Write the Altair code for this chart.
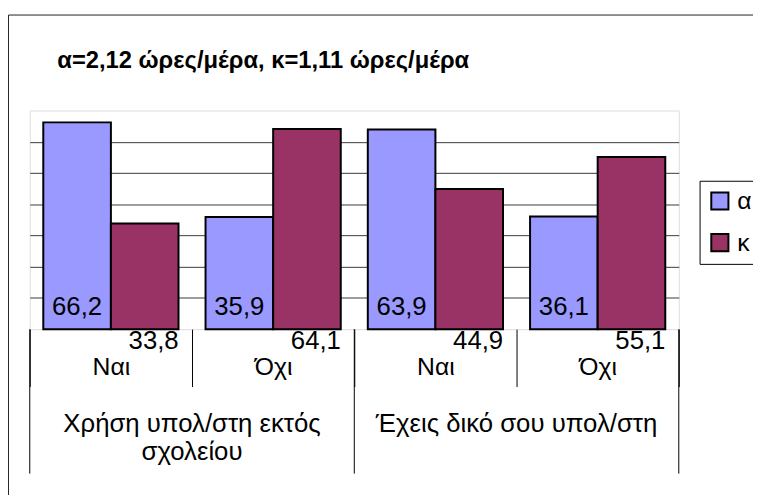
import altair as alt
import pandas as pd

title_text = "α=2,12 ώρες/μέρα, κ=1,11 ώρες/μέρα"
groups = ["Χρήση υπολ/στη εκτός\nσχολείου", "Έχεις δικό σου υπολ/στη"]
answers = ["Ναι", "Όχι"]
series = ["α", "κ"]
alpha_vals = [66.2, 35.9, 63.9, 36.1]
kappa_vals = [33.8, 64.1, 44.9, 55.1]
colors = ["#9999FF", "#993366"]

FONT = "Liberation Sans"

cats = [f"{g}|{a}" for g in groups for a in answers]
rows = []
for i, c in enumerate(cats):
    rows.append({"cat": c, "series": "α", "value": alpha_vals[i], "label": f"{alpha_vals[i]:.1f}".replace(".", ",")})
    rows.append({"cat": c, "series": "κ", "value": kappa_vals[i], "label": f"{kappa_vals[i]:.1f}".replace(".", ",")})
df = pd.DataFrame(rows)

xaxis = alt.Axis(
    title=None,
    labelExpr="split(datum.label, '|')[1]",
    tickBand="extent",
    tickSize=58,
    tickColor="#000000",
    tickWidth=1,
    domain=False,
    grid=False,
    labelPadding=-32,
    labelFont=FONT,
    labelFontSize=25,
    labelColor="#000000",
    labelAngle=0,
    labelBaseline="top",
)
xscale = alt.Scale(paddingInner=0, paddingOuter=0)
offscale = alt.Scale(paddingInner=0, paddingOuter=0.2)

base = alt.Chart(df)

bars = base.mark_bar(stroke="#000000", strokeWidth=2).encode(
    x=alt.X("cat:N", sort=cats, scale=xscale, axis=xaxis),
    xOffset=alt.XOffset("series:N", sort=series, scale=offscale),
    y=alt.Y(
        "value:Q",
        scale=alt.Scale(domain=[0, 70], nice=False),
        axis=alt.Axis(
            title=None, values=[10, 20, 30, 40, 50, 60], labels=False, ticks=False,
            domain=False, grid=True, gridColor="#3a3a3a", gridWidth=1,
        ),
    ),
    color=alt.Color(
        "series:N",
        sort=series,
        scale=alt.Scale(domain=series, range=colors),
        legend=alt.Legend(
            title=None, orient="none", legendX=677, legendY=71,
            strokeColor="#000000", fillColor="#FFFFFF", padding=8,
            symbolType="square", symbolSize=300, symbolStrokeColor="#000000",
            symbolStrokeWidth=2, symbolOpacity=1, labelFont=FONT, labelFontSize=25,
            labelColor="#000000", labelOffset=5, rowPadding=15,
        ),
    ),
)

alpha_labels = base.transform_filter(alt.datum.series == "α").mark_text(
    font=FONT, fontSize=26, color="#000000", baseline="middle", align="center"
).encode(
    x=alt.X("cat:N", sort=cats, scale=xscale, axis=xaxis),
    xOffset=alt.XOffset("series:N", sort=series, scale=offscale),
    y=alt.value(199),
    text="label:N",
)

kappa_labels = base.transform_filter(alt.datum.series == "κ").mark_text(
    font=FONT, fontSize=26, color="#000000", baseline="middle", align="center", dx=9
).encode(
    x=alt.X("cat:N", sort=cats, scale=xscale, axis=xaxis),
    xOffset=alt.XOffset("series:N", sort=series, scale=offscale),
    y=alt.value(233),
    text="label:N",
)

gdf = pd.DataFrame({"cat": [f"{g}|{answers[0]}" for g in groups], "group": groups})
ldf = pd.DataFrame({"cat": [cats[-1]]})

group_rules = alt.Chart(gdf).mark_rule(color="#000000", strokeWidth=1).encode(
    x=alt.X("cat:N", sort=cats, scale=xscale, axis=xaxis, bandPosition=0),
    y=alt.value(221), y2=alt.value(367),
)
end_rule = alt.Chart(ldf).mark_rule(color="#000000", strokeWidth=1).encode(
    x=alt.X("cat:N", sort=cats, scale=xscale, axis=xaxis, bandPosition=1),
    y=alt.value(221), y2=alt.value(367),
)
group_labels = alt.Chart(gdf).mark_text(
    font=FONT, fontSize=26, color="#000000", align="center", baseline="alphabetic",
    lineBreak="\n", lineHeight=28,
).encode(
    x=alt.X("cat:N", sort=cats, scale=xscale, axis=xaxis, bandPosition=1),
    y=alt.value(325),
    text="group:N",
)

tdf = pd.DataFrame({"t": [title_text]})
title = alt.Chart(tdf).mark_text(
    font=FONT, fontSize=24, fontWeight="bold", color="#000000",
    align="center", baseline="alphabetic",
).encode(x=alt.value(236), y=alt.value(-43), text="t:N")

frame = alt.Chart(tdf).mark_rect(
    fillOpacity=0, stroke="#222222", strokeWidth=1
).encode(x=alt.value(-21.5), x2=alt.value(800), y=alt.value(-96.5), y2=alt.value(600))

chart = alt.layer(
    frame, bars, alpha_labels, kappa_labels, group_rules, end_rule, group_labels, title
).properties(
    width=656, height=221,
    autosize=alt.AutoSizeParams(type="none"),
    padding={"left": 22, "top": 101, "right": 75, "bottom": 165},
).configure_view(
    fill="#C0C0C0", stroke="#808080", strokeWidth=2
).configure(background="#FFFFFF")

chart.save("out.html", embed_options={"renderer": "svg", "actions": False})
